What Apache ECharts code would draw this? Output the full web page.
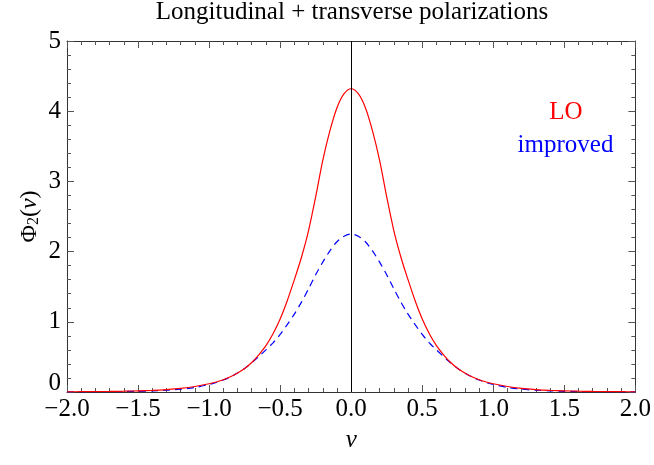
<!DOCTYPE html>
<html>
<head>
<meta charset="utf-8">
<script src="https://cdn.jsdelivr.net/npm/echarts@6/dist/echarts.min.js"></script>
<style>html,body{margin:0;padding:0;background:#fff}#c{width:654px;height:465px}</style>
</head>
<body>
<div id="c"></div>
<script>
var FONT = "'Liberation Serif','Times New Roman',serif";
var titleText = 'Longitudinal + transverse polarizations';
var legendLO = 'LO';
var legendImproved = 'improved';
var xTickValues = [-2, -1.5, -1, -0.5, 0, 0.5, 1, 1.5, 2];
var yTickValues = [0, 1, 2, 3, 4, 5];

var nu = [-2.0,-1.9,-1.8,-1.7,-1.6,-1.5,-1.4,-1.3,-1.2,-1.1,
  -1.0,-0.95,-0.9,-0.85,-0.8,-0.75,-0.7,-0.65,-0.6,-0.55,-0.5,-0.45,-0.4,-0.35,-0.3,-0.25,-0.2,-0.15,-0.1,-0.05,
  0,
  0.05,0.1,0.15,0.2,0.25,0.3,0.35,0.4,0.45,0.5,0.55,0.6,0.65,0.7,0.75,0.8,0.85,0.9,0.95,1.0,
  1.1,1.2,1.3,1.4,1.5,1.6,1.7,1.8,1.9,2.0];

var phiLO = [0.003,0.004,0.006,0.008,0.012,0.017,0.024,0.035,0.052,0.078,
  0.117,0.143,0.175,0.217,0.27,0.335,0.42,0.53,0.66,0.83,1.04,1.30,1.60,1.92,2.30,2.78,3.30,3.72,4.05,4.25,
  4.32,
  4.25,4.05,3.72,3.30,2.78,2.30,1.92,1.60,1.30,1.04,0.83,0.66,0.53,0.42,0.335,0.27,0.217,0.175,0.143,0.117,
  0.078,0.052,0.035,0.024,0.017,0.012,0.008,0.006,0.004,0.003];

var phiImproved = [0.002,0.002,0.003,0.005,0.007,0.010,0.016,0.025,0.040,0.064,
  0.107,0.135,0.17,0.215,0.27,0.335,0.415,0.505,0.60,0.70,0.82,0.96,1.11,1.28,1.47,1.67,1.85,2.01,2.14,2.22,
  2.25,
  2.22,2.14,2.01,1.85,1.67,1.47,1.28,1.11,0.96,0.82,0.70,0.60,0.505,0.415,0.335,0.27,0.215,0.17,0.135,0.107,
  0.064,0.040,0.025,0.016,0.010,0.007,0.005,0.003,0.002,0.002];

function pairs(xs, ys){ return xs.map(function(x,i){ return [x, ys[i]]; }); }

var chart = echarts.init(document.getElementById('c'), null, {renderer:'canvas'});
var frameColor = '#333';
var tickColor = '#555';

function xFmt(v){
  if (v < 0) return '\u2212' + Math.abs(v).toFixed(1);
  return v.toFixed(1);
}

var option = {
  animation: false,
  backgroundColor: '#fff',
  grid: {left: 67, right: 17, top: 41, bottom: 73, containLabel: false},
  graphic: [
    {type:'text', position:[352,12.5], style:{text: titleText, font:'25px ' + FONT, fill:'#000', align:'center', verticalAlign:'middle'}},
    {type:'text', position:[566,112], style:{text: legendLO, font:'25px ' + FONT, fill:'#ff0000', align:'center', verticalAlign:'middle'}},
    {type:'text', position:[565.5,145], style:{text: legendImproved, font:'25px ' + FONT, fill:'#0000ff', align:'center', verticalAlign:'middle'}}
  ],
  xAxis: [
    {type:'value', min:-2, max:2, interval:0.5, position:'bottom',
     name:'\u03bd', nameLocation:'middle', nameGap:36, nameMoveOverlap:false,
     nameTextStyle:{fontFamily:FONT, fontSize:25, fontStyle:'italic', color:'#000'},
     axisLine:{show:true, onZero:false, lineStyle:{color:frameColor, width:1}},
     axisTick:{show:true, inside:true, length:7, lineStyle:{color:tickColor}},
     minorTick:{show:true, splitNumber:5, length:4, lineStyle:{color:tickColor}},
     splitLine:{show:false},
     axisLabel:{show:true, margin:5, fontFamily:FONT, fontSize:25, color:'#000', formatter:xFmt,
       customValues: xTickValues}
    },
    {type:'value', min:-2, max:2, interval:0.5, position:'top',
     axisLine:{show:true, onZero:false, lineStyle:{color:frameColor, width:1}},
     axisTick:{show:true, inside:true, length:7, lineStyle:{color:tickColor}},
     minorTick:{show:true, splitNumber:5, length:4, lineStyle:{color:tickColor}},
     splitLine:{show:false}, axisLabel:{show:false}
    }
  ],
  yAxis: [
    {type:'value', min:0, max:5, interval:1, position:'left',
     name:'{a|\u03a6}{s|2}{a|(}{i|\u03bd}{a|)}', nameLocation:'middle', nameGap:25, nameRotate:90,
     nameMoveOverlap:false,
     nameTextStyle:{fontFamily:FONT, fontSize:24, color:'#000',
       rich:{
         a:{fontFamily:FONT, fontSize:24, color:'#000'},
         s:{fontFamily:FONT, fontSize:16, color:'#000', verticalAlign:'bottom', padding:[8,0,0,0]},
         i:{fontFamily:FONT, fontSize:24, fontStyle:'italic', color:'#000'}
       }},
     axisLine:{show:true, onZero:false, lineStyle:{color:frameColor, width:1}},
     axisTick:{show:true, inside:true, length:7, lineStyle:{color:tickColor}},
     minorTick:{show:true, splitNumber:5, length:4, lineStyle:{color:tickColor}},
     splitLine:{show:false},
     axisLabel:{show:true, margin:6, fontFamily:FONT, fontSize:25, color:'#000',
       customValues: yTickValues,
       formatter:function(v){ return v === 0 ? '{z|0}' : String(v); },
       rich:{z:{fontFamily:FONT, fontSize:25, color:'#000', padding:[0,0,18,0]}}
     }
    },
    {type:'value', min:0, max:5, interval:1, position:'right',
     axisLine:{show:true, onZero:false, lineStyle:{color:frameColor, width:1}},
     axisTick:{show:true, inside:true, length:7, lineStyle:{color:tickColor}},
     minorTick:{show:true, splitNumber:5, length:4, lineStyle:{color:tickColor}},
     splitLine:{show:false}, axisLabel:{show:false}
    }
  ],
  series: [
    {name:'improved', type:'line', xAxisIndex:0, yAxisIndex:0, data: pairs(nu, phiImproved),
     showSymbol:false, smooth:0.3, clip:true,
     lineStyle:{color:'#0000ff', width:1.2, type:[7,5]},
     markLine:{silent:true, symbol:['none','none'], label:{show:false},
       lineStyle:{color:'#000', width:1, type:'solid'}, data:[{xAxis:0}]}
    },
    {name:'LO', type:'line', xAxisIndex:0, yAxisIndex:0, data: pairs(nu, phiLO),
     showSymbol:false, smooth:0.3, clip:true,
     lineStyle:{color:'#ff0000', width:1.2}
    }
  ]
};
chart.setOption(option);
</script>
</body>
</html>
